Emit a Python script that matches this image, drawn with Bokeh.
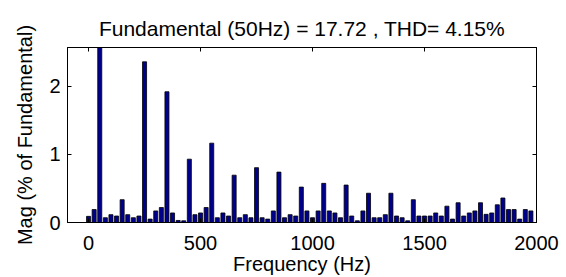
from bokeh.plotting import figure
from bokeh.models import Range1d, FixedTicker, LinearAxis
from bokeh.embed import file_html
from bokeh.resources import INLINE

title_text = "Fundamental (50Hz) = 17.72 , THD= 4.15%"
x_label = "Frequency (Hz)"
y_label = "Mag (% of Fundamental)"

freq = [0, 25, 50, 75, 100, 125, 150, 175, 200, 225,
        250, 275, 300, 325, 350, 375, 400, 425, 450, 475,
        500, 525, 550, 575, 600, 625, 650, 675, 700, 725,
        750, 775, 800, 825, 850, 875, 900, 925, 950, 975,
        1000, 1025, 1050, 1075, 1100, 1125, 1150, 1175, 1200, 1225,
        1250, 1275, 1300, 1325, 1350, 1375, 1400, 1425, 1450, 1475,
        1500, 1525, 1550, 1575, 1600, 1625, 1650, 1675, 1700, 1725,
        1750, 1775, 1800, 1825, 1850, 1875, 1900, 1925, 1950, 1975]
mag = [0.09, 0.19, 100.0, 0.07, 0.115, 0.095, 0.335, 0.115, 0.07, 0.095,
       2.36, 0.05, 0.17, 0.22, 1.92, 0.14, 0.03, 0.025, 0.93, 0.115,
       0.14, 0.22, 1.165, 0.07, 0.14, 0.095, 0.695, 0.07, 0.115, 0.07,
       0.805, 0.07, 0.05, 0.17, 0.74, 0.07, 0.115, 0.095, 0.52, 0.17,
       0.07, 0.17, 0.575, 0.17, 0.14, 0.07, 0.55, 0.095, 0.025, 0.17,
       0.43, 0.07, 0.07, 0.115, 0.43, 0.095, 0.07, 0.025, 0.335, 0.095,
       0.095, 0.095, 0.14, 0.095, 0.24, 0.05, 0.29, 0.095, 0.14, 0.17,
       0.29, 0.12, 0.14, 0.26, 0.36, 0.19, 0.19, 0.05, 0.19, 0.17]
bar_width = 18

x_ticks = [0, 500, 1000, 1500, 2000]
y_ticks = [0, 1, 2]

FONT = "Liberation Sans"
bar_fill = "#00008F"

p = figure(width=566, height=277, output_backend="svg", toolbar_location=None,
           x_range=Range1d(-94, 2000), y_range=Range1d(0, 2.57),
           min_border_left=67, min_border_right=30,
           min_border_top=47, min_border_bottom=52,
           title=title_text)

p.vbar(x=freq, top=mag, bottom=0, width=bar_width, fill_color=bar_fill,
       line_color="black", line_width=0.8)

p.title.text_font = FONT
p.title.text_font_size = "21px"
p.title.text_font_style = "normal"
p.title.align = "center"
p.title.text_color = "black"
p.title.standoff = 15
p.title.offset = -3

p.xgrid.visible = False
p.ygrid.visible = False
p.outline_line_color = "black"
p.outline_line_width = 1
p.background_fill_color = "white"
p.border_fill_color = "white"

for ax in (p.xaxis[0], p.yaxis[0]):
    ax.major_label_text_font = FONT
    ax.major_label_text_font_size = "20px"
    ax.major_label_text_color = "black"
    ax.axis_label_text_font = FONT
    ax.axis_label_text_font_size = "20px"
    ax.axis_label_text_font_style = "normal"
    ax.axis_label_text_color = "black"
    ax.major_tick_in = 4
    ax.major_tick_out = 0
    ax.minor_tick_line_color = None
    ax.axis_line_color = "black"
    ax.major_tick_line_color = "black"

p.xaxis[0].ticker = FixedTicker(ticks=x_ticks)
p.yaxis[0].ticker = FixedTicker(ticks=y_ticks)
p.xaxis[0].axis_label = x_label
p.yaxis[0].axis_label = y_label
p.xaxis[0].major_label_standoff = 13
p.xaxis[0].axis_label_standoff = 0
p.yaxis[0].major_label_standoff = 7
p.yaxis[0].axis_label_standoff = 10

top_ax = LinearAxis(ticker=FixedTicker(ticks=x_ticks),
                    major_label_overrides={t: "" for t in x_ticks},
                    major_label_text_font_size="1px",
                    major_tick_in=4, major_tick_out=0, minor_tick_line_color=None,
                    major_label_standoff=0, axis_line_color="black")
right_ax = LinearAxis(ticker=FixedTicker(ticks=y_ticks),
                      major_label_overrides={t: "" for t in y_ticks},
                      major_label_text_font_size="1px",
                      major_tick_in=4, major_tick_out=0, minor_tick_line_color=None,
                      major_label_standoff=0, axis_line_color="black")
p.add_layout(top_ax, "above")
p.add_layout(right_ax, "right")

open("out.html", "w").write(file_html(p, INLINE))
